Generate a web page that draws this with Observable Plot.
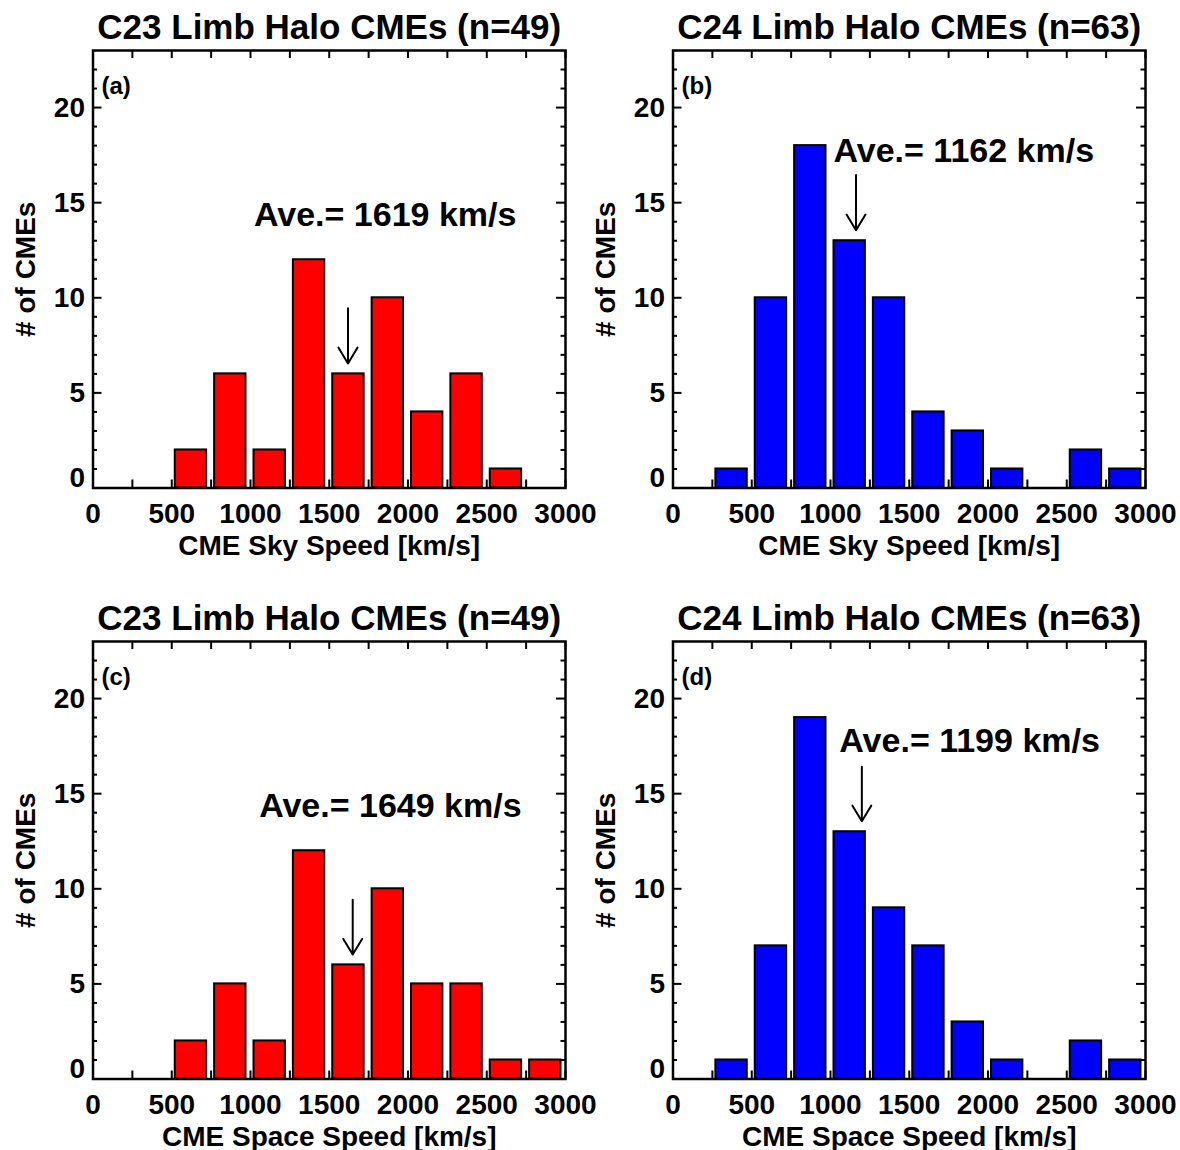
<!DOCTYPE html>
<html>
<head>
<meta charset="utf-8">
<script src="https://cdn.jsdelivr.net/npm/d3@7"></script>
<script src="https://cdn.jsdelivr.net/npm/@observablehq/plot@0.6"></script>
<style>
  html, body { margin: 0; padding: 0; background: #fff; }
  body { width: 1180px; height: 1150px; position: relative; overflow: hidden; }
  .panel { position: absolute; }
</style>
</head>
<body>
<div id="pa" class="panel" style="left:0px;top:0px"></div>
<div id="pb" class="panel" style="left:580px;top:0px"></div>
<div id="pc" class="panel" style="left:0px;top:591px"></div>
<div id="pd" class="panel" style="left:580px;top:591px"></div>
<script>
// ---- Data ----
const binWidth = 250;
const binStarts = [0, 250, 500, 750, 1000, 1250, 1500, 1750, 2000, 2250, 2500, 2750];
const countsA = [0, 0, 2, 6, 2, 12, 6, 10, 4, 6, 1, 0];   // C23 sky speed
const countsB = [0, 1, 10, 18, 13, 10, 4, 3, 1, 0, 2, 1]; // C24 sky speed
const countsC = [0, 0, 2, 5, 2, 12, 6, 10, 5, 5, 1, 1];   // C23 space speed
const countsD = [0, 1, 7, 19, 13, 9, 7, 3, 1, 0, 2, 1];   // C24 space speed

const titles = ["C23 Limb Halo CMEs (n=49)", "C24 Limb Halo CMEs (n=63)", "C23 Limb Halo CMEs (n=49)", "C24 Limb Halo CMEs (n=63)"];
const panelLabels = ["(a)", "(b)", "(c)", "(d)"];
const xTitles = ["CME Sky Speed [km/s]", "CME Sky Speed [km/s]", "CME Space Speed [km/s]", "CME Space Speed [km/s]"];
const yTitle = "# of CMEs";
const averages = [1619, 1162, 1649, 1199];
const arrowTail = [9.45, 16.45, 9.42, 16.42];
const arrowTip = [6.55, 13.55, 6.54, 13.55];
const aveTextX = [1022, 1019, 1055, 1056];
const aveTextY = [14.35, 17.7, 14.35, 17.75];

const xTickLabels = [0, 500, 1000, 1500, 2000, 2500, 3000];
const xTickMarks = [0, 250, 500, 750, 1000, 1250, 1500, 1750, 2000, 2250, 2500, 2750, 3000];
const yTickLabels = [0, 5, 10, 15, 20];
const yMajorTicks = [5, 10, 15, 20];
const yMinorTicks = [1, 2, 3, 4, 6, 7, 8, 9, 11, 12, 13, 14, 16, 17, 18, 19, 21, 22];

const RED = "#ff0000";
const BLUE = "#0000ff";
const FONT = '"Liberation Sans", Arial, Helvetica, sans-serif';

// ---- Layout ----
const W = 590, H = 560, ML = 92.5, MR = 25, MT = 50, MB = 72.5;
const FW = W - ML - MR, FH = H - MT - MB;

function panel(counts, color, i) {
  const bars = binStarts
    .map((s, j) => ({x1: s, x2: s + binWidth, count: counts[j]}))
    .filter(d => d.count > 0);
  return Plot.plot({
    width: W, height: H,
    marginLeft: ML, marginRight: MR, marginTop: MT, marginBottom: MB,
    x: {domain: [0, 3000]},
    y: {domain: [0, 23]},
    style: {fontFamily: FONT, fontWeight: "bold", color: "black", background: "transparent", overflow: "visible"},
    marks: [
      Plot.rectY(bars, {x1: "x1", x2: "x2", y: "count", fill: color, stroke: "black", strokeWidth: 2, insetLeft: 3.5, insetRight: 4.5}),
      // ticks (inward, all four sides)
      Plot.tickX(xTickMarks, {x: d => d, insetTop: FH - 8, stroke: "black", strokeWidth: 2}),
      Plot.tickX(xTickMarks, {x: d => d, insetBottom: FH - 8, stroke: "black", strokeWidth: 2}),
      Plot.tickY(yMajorTicks, {y: d => d, insetRight: FW - 9, stroke: "black", strokeWidth: 2}),
      Plot.tickY(yMajorTicks, {y: d => d, insetLeft: FW - 9, stroke: "black", strokeWidth: 2}),
      Plot.tickY(yMinorTicks, {y: d => d, insetRight: FW - 4.5, stroke: "black", strokeWidth: 2}),
      Plot.tickY(yMinorTicks, {y: d => d, insetLeft: FW - 4.5, stroke: "black", strokeWidth: 2}),
      // axes labels
      Plot.axisX({anchor: "bottom", ticks: xTickLabels, tickSize: 0, tickPadding: 15, fontSize: 28, fontWeight: "bold", label: null, tickFormat: d => String(d)}),
      Plot.axisY({anchor: "left", ticks: yTickLabels.filter(v => v !== 0), tickSize: 0, tickPadding: 8, fontSize: 28, fontWeight: "bold", label: null, tickFormat: d => String(d)}),
      Plot.axisY({anchor: "left", ticks: yTickLabels.filter(v => v === 0), tickSize: 0, tickPadding: 8, dy: -9.5, fontSize: 28, fontWeight: "bold", label: null, tickFormat: d => String(d)}),
      // average arrow + text
      Plot.arrow([{x: averages[i], y1: arrowTail[i], y2: arrowTip[i]}], {x: "x", y1: "y1", y2: "y2", stroke: "black", strokeWidth: 2, headLength: 15, headAngle: 62}),
      Plot.text([{x: aveTextX[i], y: aveTextY[i], t: `Ave.= ${averages[i]} km/s`}], {x: "x", y: "y", text: "t", textAnchor: "start", lineAnchor: "middle", fontSize: 34, fontWeight: "bold", fill: "black"}),
      // panel label
      Plot.text([panelLabels[i]], {frameAnchor: "top-left", dx: 8.5, dy: 43, lineAnchor: "bottom", textAnchor: "start", fontSize: 24, fontWeight: "bold", fill: "black"}),
      // title
      Plot.text([titles[i]], {frameAnchor: "top", dy: -12, lineAnchor: "bottom", textAnchor: "middle", fontSize: 35, fontWeight: "bold", fill: "black"}),
      // axis titles
      Plot.text([xTitles[i]], {frameAnchor: "bottom", dy: 67, lineAnchor: "bottom", textAnchor: "middle", fontSize: 28, fontWeight: "bold", fill: "black"}),
      Plot.text([yTitle], {frameAnchor: "left", dx: -58, rotate: -90, lineAnchor: "bottom", textAnchor: "middle", fontSize: 28, fontWeight: "bold", fill: "black"}),
      Plot.frame({stroke: "black", strokeWidth: 2.5})
    ]
  });
}

document.getElementById("pa").append(panel(countsA, RED, 0));
document.getElementById("pb").append(panel(countsB, BLUE, 1));
document.getElementById("pc").append(panel(countsC, RED, 2));
document.getElementById("pd").append(panel(countsD, BLUE, 3));
</script>
</body>
</html>
